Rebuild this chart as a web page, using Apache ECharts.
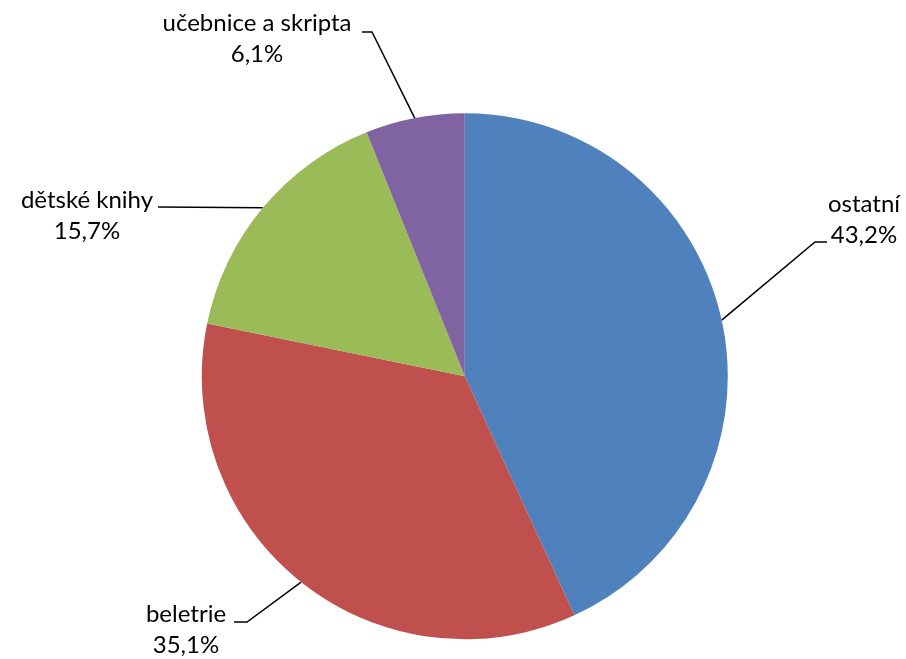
<!DOCTYPE html>
<html>
<head>
<meta charset="utf-8">
<script src="https://cdn.jsdelivr.net/npm/echarts@6/dist/echarts.min.js"></script>
<style>html,body{margin:0;padding:0;background:#fff}#c{width:906px;height:659px}</style>
</head>
<body>
<div id="c"></div>
<script>
var categories = ['ostatní', 'beletrie', 'dětské knihy', 'učebnice a skripta'];
var values = [43.2, 35.1, 15.7, 6.1];
var colors = ['#4F81BD', '#C0504D', '#9BBB59', '#8064A2'];

// label placement (text block centre, elbow, end of leader line)
var labelPos = [
  {x: 864, y: 220, elbow: [815, 242], end: [827, 242]},
  {x: 186, y: 630, elbow: [247, 622], end: [234, 622]},
  {x: 87,  y: 216, elbow: null,        end: [158, 207]},
  {x: 257, y: 39,  elbow: [372, 32],   end: [362, 32]}
];

var chart = echarts.init(document.getElementById('c'));
chart.setOption({
  animation: false,
  series: [{
    type: 'pie',
    center: ['51.3%', '57.1%'],
    radius: 263,
    startAngle: 90,
    clockwise: true,
    avoidLabelOverlap: false,
    data: categories.map(function (c, i) {
      return {name: c, value: values[i], itemStyle: {color: colors[i]}};
    }),
    label: {
      show: true,
      position: 'outside',
      color: '#000',
      fontFamily: 'Lato, "Open Sans", sans-serif',
      fontSize: 24,
      lineHeight: 31,
      align: 'center',
      formatter: function (p) {
        return p.name + '\n' + p.value.toFixed(1).replace('.', ',') + '%';
      }
    },
    labelLine: {
      show: true,
      length: 20,
      length2: 10,
      lineStyle: {color: '#000', width: 1.5}
    },
    labelLayout: function (params) {
      var lp = labelPos[params.dataIndex];
      var start = params.labelLinePoints ? params.labelLinePoints[0] : lp.end;
      var pts = lp.elbow ? [start, lp.elbow, lp.end] : [start, lp.end, lp.end];
      return {
        x: lp.x,
        y: lp.y,
        align: 'center',
        verticalAlign: 'middle',
        labelLinePoints: pts
      };
    },
    emphasis: {disabled: true}
  }]
});
</script>
</body>
</html>
